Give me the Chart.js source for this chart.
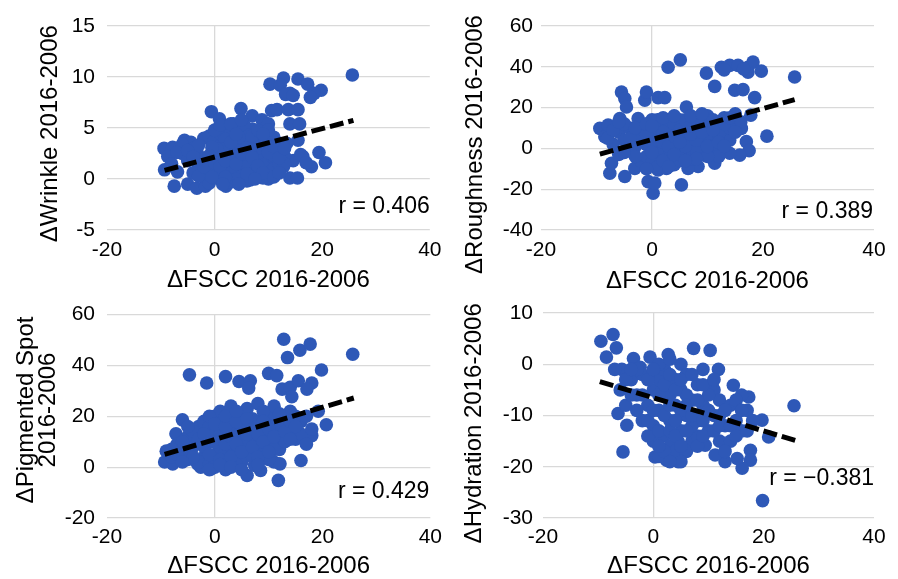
<!DOCTYPE html>
<html>
<head>
<meta charset="utf-8">
<script src="https://cdn.jsdelivr.net/npm/chart.js@4.4.1/dist/chart.umd.min.js"></script>
<style>
  html, body { margin: 0; padding: 0; background: #fff; overflow: hidden; }
  #wrap { position: relative; width: 898px; height: 579px; overflow: hidden; }
  canvas { position: absolute; }
</style>
</head>
<body>
<div id="wrap">
  <canvas id="c1" width="449" height="300" style="left:0;top:0"></canvas>
  <canvas id="c2" width="450" height="300" style="left:448px;top:0"></canvas>
  <canvas id="c3" width="449" height="300" style="left:0;top:290px"></canvas>
  <canvas id="c4" width="450" height="300" style="left:448px;top:290px"></canvas>
</div>
<script>
// data: [ΔFSCC, Δvalue]
const wrinklePts = [
  [25.6,10.2],[10.3,9.3],[12.8,9.9],[14,8.4],[15.5,9.8],[17.3,9.3],[19.8,8.7],[18.5,8.4],[12.2,9.2],[13.2,8.3],[14.6,8.2],[17.8,8.0],
  [10.6,6.7],[11.6,6.8],[13.7,6.8],[15.5,6.8],[14,5.4],[15.8,5.4],[15.5,3.8],[13.4,3.5],[-0.6,6.6],[0.9,5.9],[4.9,6.9],[7,6.2],[8.8,5.8],[10,5.4],
  [-9.4,3.0],[-7.8,3.1],[-5.6,3.8],[-4.4,3.6],[-8.7,2.2],[-3.2,2.5],[-2,4.0],[-9.3,0.9],[-7.5,-0.7],[-5,-0.5],[-3.3,-0.9],[-1.7,-0.7],[2.1,-0.7],[-6.9,0.7],
  [20.6,1.6],[19.4,2.6],[18,1.2],[16.4,2.2],[14,0.1],[15.4,0.1],[14.6,1.8],[12.8,1.2],[10,0],[6.6,-0.1],[5.1,-0.1],
  [-1,4.2],[0,3.8],[1,4.5],[2,5.0],[3,4.6],[4,5.2],[5,4.8],[6,4.4],[7,4.9],[8,4.0],[1,3.2],[2,3.6],[3,2.9],[4,3.4],[5,3.1],[6,3.7],
  [7,2.8],[8,3.2],[9,3.6],[10,3.9],[11,4.1],[0,2.4],[1,1.9],[2,2.5],[3,1.6],[4,2.2],[5,1.8],[6,2.4],[7,1.5],[8,2.0],[9,2.6],[10,1.7],
  [11,2.3],[12,2.8],[13,2.2],[-1,1.2],[0,0.8],[1,0.4],[2,1.1],[3,0.6],[4,0.9],[5,0.3],[6,1.2],[7,0.5],[8,0.8],[9,1.3],[10,0.6],[11,1.0],
  [12,1.5],[-2,2.0],[-3,1.4],[-4,0.6],[-5,1.8],[-6,2.5],[-4,3.0],[-3,3.3],[-2,0.2],[-1,-0.4],[0,0.1],[3,-0.3],[4,0.0],[6,-0.2],[8,0.2],
  [9,0.1],[2,3.9],[5,4.0],[7,3.7],[3.5,5.4],[5.5,5.3],[6.5,4.3],[4.5,4.1],[1.5,2.9],[0.5,2.9],[-0.5,3.1],[13,1.5],[12,3.5],[16,2.4],[17,1.6],
  [-6,3.4],[-7,2.6],[-8,1.5],[-5,2.8],[-4,2.2],[-3,0.3],[-2,1.2],[-1,2.3],[0,1.6],[0,4.8],[1,5.3],[1,1.2],[2,0.2],[2,1.8],[3,3.6],
  [3,5.4],[4,1.5],[4,4.4],[5,2.5],[5,5.8],[6,0.5],[6,3.0],[7,2.1],[7,4.2],[8,1.3],[8,4.8],[9,3.0],[9,0.6],[10,2.6],[10,4.8],[11,0.2],
  [11,3.2],[12,0.6],[12,2.1],[13,3.0],[9,4.4],[-0.5,0.2],[1.5,-0.5],[4.5,-0.5],[7.5,0.0]
];
const roughnessPts = [
  [25.7,35],[5.1,43.4],[2.9,39.8],[9.8,36.9],[11.3,30.4],[12.5,39.8],[14,40.7],[15.5,40.7],[17.3,39.8],[18.2,42.3],[19.7,37.9],[17.3,37.4],
  [13,38.5],[16.5,39],[14.9,28.5],[16.4,28.8],[18.5,24.9],[20.7,6.0],[17.8,16.3],[16.1,9.8],[17,3.3],[17.5,-1.1],[15.8,-3.3],[14,-2.4],
  [11.3,-7.3],[11.3,-1.6],[9.5,-2.4],[8.3,-8.9],[6.5,-9.8],[5.3,-17.9],[0.2,-22],[-0.7,-16.3],[0.5,-17],[1.1,-10.6],[2.6,-9.8],[-3.1,-9.8],
  [-4.9,-13.8],[-7.6,-12.2],[-7.3,-7.3],[-9.4,9.8],[-7.9,11.4],[-8.5,5.7],[-5.5,27.6],[-4.9,24.4],[-4.6,20.3],[-1.3,23.6],[-1,27.6],[1.1,24.9],
  [2.3,24.9],[6.2,20.3],[-2.5,14.6],[-5.8,14.6],
  [-6,8],[-5,4],[-4,10],[-3,6],[-2,12],[-1,2],[0,8],[0,14],[1,5],[1,-2],[2,10],[2,0],[3,7],[3,13],[3,-4],[4,3],[4,9],[5,14],[5,-1],[6,6],
  [6,11],[7,1],[7,-5],[8,8],[8,13],[9,3],[9,-3],[10,10],[10,16],[11,5],[11,1],[12,12],[12,-4],[13,9],[13,15],[14,4],[15,11],[15,17],[16,13],
  [-7,2],[-6,-3],[-4,-1],[-3,1],[-2,-6],[-1,-4],[0,-7],[1,-9],[2,-6],[4,-8],[5,-6],[6,-2],[8,-1],[10,-4],[-2,4],[0,3],[2,5],[4,12],[6,1],
  [8,4],[10,7],[12,7],[14,10],[-8,5],[-5,12],
  [-7,9],[-6,13],[-4,5],[-3,10],[-1,7],[-1,12],[0,-2],[1,10],[1,14],[2,3],[2,8],[3,1],[4,6],[4,-3],[5,9],[5,3],[6,14],[7,7],[7,11],[8,-5],
  [9,8],[9,13],[10,1],[11,14],[12,3],[13,12],[13,1],[14,15],[15,8],[-3,-4],[-1,-10],[3,-9],[6,-6],[-5,-2],[0,11],[2,15],[4,16],[7,16],[9,17],[11,9]
];
const pigmentPts = [
  [25.6,44.4],[12.8,50.3],[15.8,46],[17.7,48.4],[13.5,43.1],[19.8,38.2],[-4.7,36.3],[-1.5,33.1],[2.0,35.6],[4.5,33.7],[6.6,34],[6.3,31.1],
  [10,36.9],[11.5,36],[12.5,30.7],[14,31.4],[15.5,34],[14.3,27.7],[18,33.1],[17.1,30.7],[19.2,22],[20.7,16.7],[18,12.4],[16,2.6],
  [11.8,-5.2],[8.5,-1.3],[6,-3.3],[7.4,0.7],[11,2],[12.1,1.3],[-9.3,2],[-7.8,1.3],[-9,6.3],[-6,18.6],[-7.2,13.1],[-3.2,1.3],[-0.7,-0.7],
  [-2.6,0],[0.5,9.8],
  [-5,12],[-4,8],[-3,16],[-2,4],[-2,18],[-1,10],[0,14],[0,20],[0,5],[1,17],[1,8],[1,22],[2,12],[2,3],[3,19],[3,9],[3,24],[4,14],[4,5],
  [5,20],[5,11],[5,2],[6,16],[6,7],[6,23],[7,12],[7,4],[8,18],[8,9],[8,25],[9,14],[9,5],[10,20],[10,10],[11,16],[11,24],[12,12],[12,7],
  [13,19],[13,10],[14,15],[14,22],[15,11],[16,18],[16,13],[17,20],[18,15],[17,9],[-6,6],[-5,3],[-3,2],[-1,1],[0,0],[2,-1],[4,1],[-4,14],
  [-7,9],[-8,4],[1,13],[3,15],[5,15],[7,19],[9,22],[10,3],[12,17],[15,20],[-1,16],[2,6],[6,10],
  [-6,10],[-5,16],[-4,4],[-3,11],[-2,8],[-2,13],[-1,5],[-1,20],[0,10],[0,17],[1,3],[1,11],[2,9],[2,16],[2,20],[3,4],[3,12],[4,9],[4,18],
  [4,22],[5,6],[6,13],[6,19],[7,8],[7,15],[8,13],[8,4],[9,10],[9,18],[10,15],[11,7],[11,12],[12,21],[13,14],[14,11],[14,18],[15,16],
  [-7,5],[-8,7],[-6,2],[-1,-1],[1,1],[3,0],[5,-1],[8,1],[10,6]
];
const hydrationPts = [
  [25.5,-8.1],[19.8,-26.6],[-5.5,-17.1],[-9.5,4.5],[-7.3,5.8],[-6.7,3.2],[-8.5,1.4],[-5.7,-1],[-3.6,1.1],[-2.4,-0.6],[-0.6,1.4],[2.7,1.9],
  [7.3,3.1],[10.3,2.7],[11.8,-1],[10.6,-3.8],[14.5,-4.1],[17.3,-6.4],[19.7,-10.9],[20.9,-14.2],[17.6,-16.8],[17.6,-18.7],[16.1,-20.3],
  [15.2,-18.4],[13,-19],[11.2,-17.7],[9.4,-15.8],[4.5,-19],[2.4,-18.7],[0.3,-18.1],[-4.8,-11.9],[-6.4,-9.6],[4.5,-15.1],[6.4,-16.1],
  [-4,-3],[-3,-6],[-2,-2],[-1,-8],[-2,-11],[0,-5],[0,-12],[0,-15],[1,-3],[1,-9],[2,-1],[2,-6],[2,-14],[3,-11],[3,-16],[4,-3],[4,-8],
  [5,0],[5,-5],[5,-13],[6,-10],[6,-2],[7,-7],[7,-15],[8,-4],[8,-11],[9,-1],[9,-8],[10,-13],[11,-5],[11,-10],[12,-7],[12,-15],[13,-12],
  [14,-8],[14,-15],[15,-11],[16,-6],[16,-13],[17,-9],[18,-11],[-6,-5],[-5,-8],[-3,-1],[1,0],[3,1],[4,-17],[6,-6],[8,-14],[10,-6],
  [12,-10],[13,-17],[-1,-14],[1,-18],[3,-6],[5,-9],[7,-12],[9,-4],[6,-17],
  [-7,-1],[-5,-3],[-4,-6],[-3,-9],[-1,-3],[-1,-11],[0,-1],[0,-9],[1,-6],[1,-13],[2,-4],[2,-10],[2,-17],[3,-2],[3,-8],[3,-13],[4,-5],
  [4,-11],[4,-14],[5,-3],[5,-16],[6,-8],[6,-13],[7,-2],[7,-10],[8,-7],[8,-16],[9,-11],[9,-14],[10,-9],[11,-13],[11,-3],[12,-12],[13,-9],
  [14,-12],[15,-7],[15,-14],[16,-9],[17,-13],[-2,-6],[-4,-1],[1,-16],[5,-19],[3,-19]
];

// fitted lines, end points
const wrinkleTrend = [[-9.3, 0.85], [25.8, 5.75]];
const roughnessTrend = [[-9.4, -2.8], [25.7, 23.9]];
const pigmentTrend = [[-9.3, 5.0], [25.8, 27.2]];
const hydrationTrend = [[-9.7, -3.4], [25.8, -14.9]];

const rLabels = ['r = 0.406', 'r = 0.389', 'r = 0.429', 'r = \u22120.381'];
const xTitle = '\u0394FSCC 2016-2006';
const yTitles = [['\u0394Wrinkle 2016-2006'], ['\u0394Roughness 2016-2006'], ['\u0394Pigmented Spot', '2016-2006'], ['\u0394Hydration 2016-2006']];
const xTicks = { min: -20, max: 40, step: 20 };
const yTicks = [
  { min: -5, max: 15, step: 5 },
  { min: -40, max: 60, step: 20 },
  { min: -20, max: 60, step: 20 },
  { min: -30, max: 10, step: 10 }
];

const FONT = '"Liberation Sans", Arial, sans-serif';
const BLUE = '#2E58B7';
const GRID = '#d9d9d9';

// r value and the rotated y title (baseline given by titleX)
const textPlugin = {
  id: 'panelText',
  afterDraw(chart, args, opts) {
    const ctx = chart.ctx;
    ctx.save();
    ctx.fillStyle = '#000';
    ctx.textBaseline = 'middle';
    ctx.font = '23px ' + FONT;
    ctx.textAlign = 'right';
    ctx.fillText(opts.r, chart.chartArea.right + opts.rDx, opts.rY);
    ctx.font = '24px ' + FONT;
    ctx.textAlign = 'center';
    ctx.textBaseline = 'alphabetic';
    opts.title.forEach((line, k) => {
      ctx.save();
      ctx.translate(opts.titleX[k], opts.titleY);
      ctx.rotate(-Math.PI / 2);
      ctx.fillText(line, 0, 0);
      ctx.restore();
    });
    ctx.restore();
  }
};

function toXY(pts) {
  return pts.map(p => ({ x: p[0], y: p[1] }));
}

// g: geometry of each canvas (plot area etc.)
function makePanel(id, pts, trend, i, g) {
  const yt = yTicks[i];
  return new Chart(document.getElementById(id), {
    type: 'scatter',
    data: {
      datasets: [{
        type: 'line',
        data: toXY(trend),
        borderColor: '#000',
        borderWidth: 5,
        borderDash: [14, 5],
        pointRadius: 0,
        fill: false,
        order: 0
      }, {
        data: toXY(pts),
        backgroundColor: BLUE,
        borderWidth: 0,
        pointRadius: 6.8,
        order: 1
      }]
    },
    options: {
      responsive: false,
      animation: false,
      events: [],
      layout: { padding: { left: 0, right: g.padRight, top: g.top, bottom: 0 } },
      plugins: {
        legend: { display: false },
        tooltip: { enabled: false },
        panelText: { r: rLabels[i], rY: g.rY, rDx: g.rDx, title: yTitles[i], titleX: g.titleX, titleY: g.titleY }
      },
      scales: {
        x: {
          type: 'linear',
          min: xTicks.min, max: xTicks.max,
          ticks: { stepSize: xTicks.step, color: '#000', font: { family: FONT, size: 21 }, padding: g.xTickPad, maxRotation: 0 },
          grid: { drawTicks: false, color: c => c.tick && c.tick.value === 0 ? GRID : 'rgba(0,0,0,0)', lineWidth: 1.3 },
          border: { display: false },
          title: { display: true, text: xTitle, color: '#000', font: { family: FONT, size: 24, lineHeight: 1.2 }, padding: { top: 0, bottom: g.xTitlePad } },
          afterFit: s => { s.height = g.xH; }
        },
        y: {
          type: 'linear',
          min: yt.min, max: yt.max,
          ticks: { stepSize: yt.step, color: '#000', font: { family: FONT, size: 21 }, padding: g.yTickPad },
          grid: { drawTicks: false, color: GRID, lineWidth: 1.3 },
          border: { display: false },
          title: { display: false },
          afterFit: s => { s.width = g.left; }
        }
      }
    },
    plugins: [textPlugin]
  });
}

makePanel('c1', wrinklePts, wrinkleTrend, 0,
  { left: 107, padRight: 13, top: 26, xH: 70, xTickPad: 7.5, xTitlePad: 5.6, yTickPad: 12, rY: 206.7, rDx: 0, titleX: [56.5], titleY: 133.7 });
makePanel('c2', roughnessPts, roughnessTrend, 1,
  { left: 93, padRight: 24, top: 26, xH: 70, xTickPad: 7.5, xTitlePad: 4, yTickPad: 8, rY: 211.7, rDx: -1, titleX: [33.5], titleY: 144.5 });
makePanel('c3', pigmentPts, pigmentTrend, 2,
  { left: 107, padRight: 13, top: 24, xH: 72, xTickPad: 7, xTitlePad: 8.9, yTickPad: 12, rY: 201.7, rDx: -1, titleX: [33, 55], titleY: 120 });
makePanel('c4', hydrationPts, hydrationTrend, 3,
  { left: 95, padRight: 24, top: 23, xH: 72, xTickPad: 7, xTitlePad: 8.9, yTickPad: 10, rY: 189, rDx: 0, titleX: [32.5], titleY: 133.3 });
</script>
</body>
</html>
